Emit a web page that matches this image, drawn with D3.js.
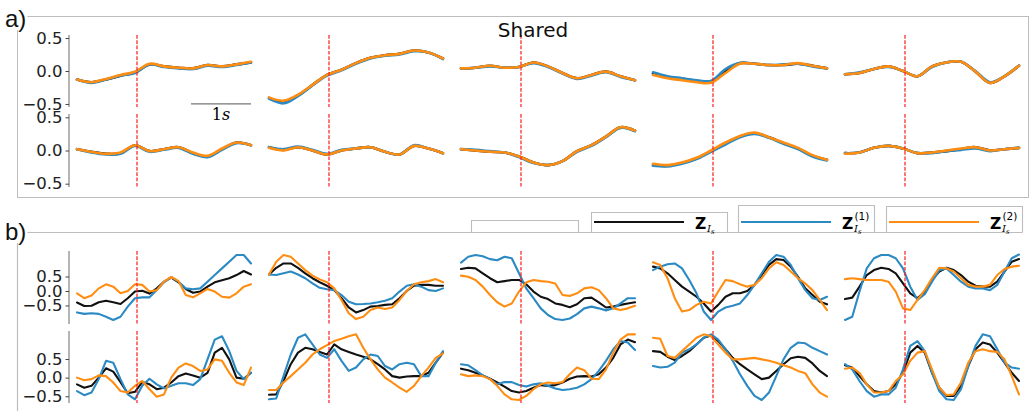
<!DOCTYPE html>
<html>
<head>
<meta charset="utf-8">
<script src="https://cdn.jsdelivr.net/npm/d3@7"></script>
<style>
  body { margin: 0; background: #fff; }
  svg { display: block; font-family: "DejaVu Sans", sans-serif; }
</style>
</head>
<body>
<svg id="chart" width="1031" height="411"></svg>
<script>
// ---- data ----
const yTicks = [-0.5, 0, 0.5];
const seriesNames = ["black", "blue", "orange"];
const superscripts = ["", "(1)", "(2)"];

// a) shared, 13 samples per trace, 5 trials per row
const aRow1Black = [
  [-0.13,-0.17,-0.13,-0.07,-0.02,0.10,0.07,0.05,0.04,0.09,0.07,0.10,0.13],
  [-0.41,-0.47,-0.37,-0.21,-0.06,0.02,0.12,0.20,0.24,0.26,0.31,0.28,0.19],
  [0.04,0.05,0.08,0.05,0.06,0.13,0.07,-0.03,-0.11,-0.06,-0.01,-0.08,-0.14],
  [-0.04,-0.09,-0.12,-0.15,-0.16,0.00,0.12,0.11,0.09,0.09,0.11,0.08,0.04],
  [-0.05,-0.03,0.03,0.07,0.00,-0.08,0.07,0.13,0.14,-0.01,-0.18,-0.08,0.08]
];
const aRow1Blue = [
  [-0.13,-0.18,-0.13,-0.07,-0.03,0.10,0.06,0.04,0.03,0.08,0.06,0.09,0.13],
  [-0.42,-0.49,-0.38,-0.22,-0.07,0.01,0.11,0.19,0.23,0.25,0.30,0.28,0.18],
  [0.04,0.05,0.07,0.05,0.06,0.12,0.06,-0.04,-0.12,-0.07,-0.02,-0.09,-0.14],
  [-0.02,-0.08,-0.11,-0.14,-0.15,0.03,0.12,0.11,0.09,0.10,0.11,0.07,0.04],
  [-0.05,-0.02,0.03,0.06,0.00,-0.08,0.06,0.13,0.14,0.00,-0.17,-0.08,0.08]
];
const aRow1Orange = [
  [-0.13,-0.17,-0.12,-0.06,-0.01,0.11,0.07,0.05,0.04,0.09,0.07,0.10,0.14],
  [-0.40,-0.45,-0.36,-0.21,-0.06,0.02,0.12,0.20,0.24,0.26,0.31,0.28,0.19],
  [0.04,0.05,0.08,0.05,0.06,0.13,0.07,-0.03,-0.11,-0.06,-0.01,-0.08,-0.14],
  [-0.06,-0.11,-0.14,-0.17,-0.18,-0.03,0.11,0.11,0.09,0.09,0.12,0.08,0.04],
  [-0.05,-0.03,0.03,0.07,0.00,-0.08,0.07,0.13,0.14,-0.01,-0.18,-0.08,0.08]
];
const aRow2Black = [
  [0.02,-0.02,-0.05,-0.04,0.08,-0.01,0.02,0.05,-0.04,-0.09,0.02,0.12,0.08],
  [0.05,0.01,0.05,0.00,-0.06,0.00,0.03,0.05,-0.02,-0.06,0.07,0.03,-0.04],
  [0.02,0.00,-0.02,-0.03,-0.09,-0.18,-0.22,-0.16,-0.01,0.08,0.21,0.35,0.30],
  [-0.22,-0.23,-0.19,-0.12,-0.01,0.11,0.21,0.26,0.20,0.11,0.03,-0.08,-0.14],
  [-0.04,-0.03,0.04,0.07,0.03,-0.04,-0.03,-0.01,0.02,0.05,0.00,0.02,0.04]
];
const aRow2Blue = [
  [0.02,-0.03,-0.06,-0.05,0.07,-0.02,0.01,0.04,-0.05,-0.10,0.01,0.11,0.08],
  [0.05,0.02,0.06,0.01,-0.05,0.01,0.03,0.05,-0.02,-0.06,0.08,0.03,-0.04],
  [0.02,0.01,-0.01,-0.03,-0.10,-0.19,-0.22,-0.16,-0.02,0.07,0.20,0.34,0.29],
  [-0.23,-0.24,-0.20,-0.13,-0.02,0.09,0.20,0.25,0.19,0.10,0.02,-0.09,-0.15],
  [-0.04,-0.03,0.04,0.07,0.03,-0.04,-0.04,-0.01,0.01,0.03,-0.01,0.02,0.04]
];
const aRow2Orange = [
  [0.02,-0.02,-0.05,-0.03,0.08,-0.01,0.02,0.05,-0.03,-0.08,0.03,0.12,0.08],
  [0.04,0.00,0.05,0.00,-0.06,0.00,0.03,0.05,-0.02,-0.06,0.07,0.03,-0.04],
  [0.02,0.00,-0.02,-0.03,-0.09,-0.18,-0.22,-0.16,-0.01,0.08,0.21,0.35,0.30],
  [-0.20,-0.22,-0.18,-0.11,0.00,0.12,0.22,0.27,0.20,0.12,0.04,-0.07,-0.14],
  [-0.05,-0.03,0.04,0.07,0.03,-0.04,-0.03,0.00,0.03,0.05,0.00,0.02,0.04]
];

// b) 25 samples per trace
const bRow1Black = [
  [-0.40,-0.52,-0.51,-0.39,-0.34,-0.39,-0.45,-0.25,-0.02,0.01,-0.09,0.09,0.32,0.46,0.30,0.07,-0.06,-0.02,0.15,0.30,0.37,0.44,0.55,0.69,0.57],
  [0.57,0.80,0.95,0.95,0.80,0.61,0.44,0.30,0.18,0.03,-0.25,-0.57,-0.74,-0.66,-0.54,-0.52,-0.48,-0.46,-0.25,0.00,0.18,0.21,0.21,0.18,0.18],
  [0.76,0.80,0.78,0.61,0.44,0.30,0.34,0.38,0.38,0.23,-0.02,-0.20,-0.28,-0.43,-0.48,-0.56,-0.46,-0.25,-0.23,-0.39,-0.57,-0.54,-0.48,-0.43,-0.39],
  [0.84,0.78,0.61,0.38,0.15,-0.02,-0.20,-0.43,-0.71,-0.48,-0.20,-0.08,-0.08,0.00,0.21,0.55,0.90,1.10,1.07,0.84,0.49,0.09,-0.14,-0.37,-0.46],
  [-0.28,-0.23,0.15,0.55,0.72,0.80,0.76,0.61,0.26,-0.08,-0.25,-0.02,0.38,0.67,0.80,0.72,0.55,0.32,0.18,0.15,0.15,0.32,0.67,1.01,1.10]
];
const bRow1Blue = [
  [-0.74,-0.79,-0.77,-0.79,-0.89,-1.00,-0.89,-0.54,-0.25,-0.22,-0.22,0.03,0.30,0.48,0.32,0.09,0.06,0.09,0.32,0.55,0.78,1.01,1.24,1.24,0.95],
  [0.57,0.55,0.61,0.67,0.57,0.44,0.26,0.11,0.06,0.03,-0.14,-0.37,-0.46,-0.45,-0.43,-0.39,-0.34,-0.25,-0.02,0.18,0.23,0.15,0.03,0.00,0.09],
  [0.98,1.18,1.24,1.20,1.10,1.06,1.18,1.13,0.61,0.09,-0.25,-0.60,-0.83,-0.97,-1.00,-0.95,-0.80,-0.60,-0.54,-0.60,-0.67,-0.60,-0.43,-0.25,-0.25],
  [0.72,0.84,0.92,0.95,0.78,0.38,-0.08,-0.71,-1.00,-0.71,-0.57,-0.51,-0.43,-0.14,0.21,0.61,1.01,1.24,1.18,0.90,0.44,0.03,-0.25,-0.31,-0.20],
  [-1.00,-0.89,-0.02,0.78,1.13,1.24,1.24,1.13,0.78,0.15,-0.31,-0.11,0.32,0.72,0.78,0.55,0.32,0.15,0.09,0.09,0.03,0.21,0.67,1.13,1.26]
];
const bRow1Orange = [
  [-0.08,-0.25,-0.16,0.09,0.23,0.15,-0.08,0.00,0.23,0.21,-0.02,0.03,0.32,0.49,0.34,-0.14,-0.22,-0.08,0.07,-0.02,-0.20,-0.23,-0.08,0.15,0.23],
  [0.57,1.01,1.24,1.18,0.95,0.72,0.53,0.40,0.30,0.09,-0.31,-0.77,-0.97,-0.89,-0.66,-0.57,-0.62,-0.57,-0.31,0.00,0.23,0.30,0.34,0.41,0.30],
  [0.53,0.49,0.38,0.15,-0.14,-0.39,-0.54,-0.43,-0.02,0.30,0.38,0.34,0.32,0.26,-0.14,-0.17,-0.08,0.09,0.13,0.03,-0.25,-0.60,-0.66,-0.60,-0.51],
  [0.99,0.90,0.44,-0.25,-0.71,-0.66,-0.48,-0.37,-0.43,-0.02,0.38,0.34,0.23,0.15,0.21,0.44,0.78,0.99,0.90,0.67,0.44,0.26,0.03,-0.31,-0.66],
  [0.41,0.44,0.41,0.38,0.38,0.38,0.32,-0.02,-0.60,-0.66,-0.31,0.03,0.44,0.80,0.78,0.67,0.44,0.21,0.15,0.15,0.21,0.55,0.76,0.84,0.87]
];
const bRow2Black = [
  [-0.18,-0.27,-0.22,0.00,0.25,0.16,-0.12,-0.42,-0.38,-0.12,-0.18,-0.31,-0.27,-0.13,0.04,0.11,0.06,0.00,0.13,0.67,0.80,0.49,0.00,-0.03,0.13],
  [-0.46,-0.45,-0.09,0.36,0.67,0.80,0.76,0.69,0.62,0.89,0.76,0.69,0.62,0.56,0.49,0.36,0.22,0.04,0.00,0.03,0.04,0.04,0.13,0.40,0.67],
  [0.24,0.20,0.13,0.06,-0.03,-0.13,-0.24,-0.36,-0.40,-0.36,-0.27,-0.20,-0.22,-0.20,-0.13,-0.03,0.03,0.04,0.03,0.09,0.27,0.53,0.89,1.02,0.95],
  [0.71,0.69,0.56,0.47,0.58,0.71,0.89,1.07,1.13,0.98,0.76,0.53,0.36,0.22,0.09,-0.04,0.00,0.18,0.36,0.52,0.56,0.53,0.38,0.18,0.04],
  [0.33,0.27,0.04,-0.18,-0.36,-0.40,-0.36,-0.18,0.13,0.67,0.85,0.67,0.13,-0.27,-0.49,-0.49,-0.22,0.31,0.76,0.94,0.89,0.67,0.40,0.13,-0.09]
];
const bRow2Blue = [
  [-0.36,-0.47,-0.40,-0.04,0.45,0.40,-0.04,-0.45,-0.58,-0.22,-0.03,-0.18,-0.29,-0.22,-0.15,-0.15,-0.20,-0.04,0.49,1.02,1.11,0.71,0.18,-0.04,0.13],
  [-0.58,-0.56,0.04,0.62,1.07,1.16,0.89,0.62,0.53,0.76,0.45,0.18,0.27,0.49,0.62,0.58,0.31,0.22,0.36,0.40,0.36,0.04,0.04,0.40,0.71],
  [0.36,0.33,0.20,0.06,-0.04,-0.18,-0.12,-0.12,-0.20,-0.24,-0.18,-0.15,-0.22,-0.29,-0.33,-0.31,-0.27,-0.18,-0.04,0.18,0.45,0.76,0.98,0.94,0.74],
  [0.31,0.27,0.29,0.40,0.67,0.76,0.89,1.07,1.16,1.02,0.76,0.45,0.09,-0.22,-0.49,-0.60,-0.40,0.04,0.49,0.80,0.94,0.92,0.80,0.71,0.62],
  [0.36,0.22,-0.09,-0.36,-0.51,-0.45,-0.45,-0.27,0.22,0.85,0.98,0.71,0.13,-0.36,-0.58,-0.60,-0.31,0.31,0.85,1.16,1.11,0.76,0.40,0.27,0.24]
];
const bRow2Orange = [
  [0.00,-0.07,-0.04,0.06,0.04,-0.13,-0.36,-0.40,-0.22,-0.09,-0.31,-0.51,-0.45,0.00,0.27,0.38,0.31,0.18,0.22,0.49,0.45,0.13,-0.13,-0.20,0.27],
  [-0.33,-0.33,-0.13,0.04,0.22,0.40,0.62,0.76,0.87,0.98,1.04,1.11,1.16,0.80,0.49,0.22,0.00,-0.13,-0.27,-0.38,-0.22,0.04,0.27,0.53,0.65],
  [0.09,0.04,0.06,0.04,-0.04,-0.22,-0.45,-0.58,-0.60,-0.49,-0.31,-0.18,-0.13,-0.15,-0.12,0.09,0.27,0.20,-0.03,-0.04,0.22,0.67,1.02,1.16,1.16],
  [1.07,1.04,0.58,0.53,0.71,0.89,1.07,1.16,1.11,0.89,0.67,0.49,0.49,0.51,0.53,0.49,0.45,0.40,0.33,0.27,0.18,0.12,-0.18,-0.40,-0.51],
  [0.24,0.27,0.13,-0.18,-0.40,-0.40,-0.36,-0.09,0.09,0.45,0.67,0.71,0.22,-0.27,-0.47,-0.45,-0.13,0.40,0.71,0.76,0.71,0.69,0.49,0.04,-0.45]
];

// ---- layout ----
const colors = { black: "#111111", blue: "#2b8ac3", orange: "#ff8d12" };
const frameColor = "#bdbdbd";
const panelLeft = [77, 269, 461, 653, 845];
const panelWidth = 174;
const duration = 2.9;  // seconds per trial window
const onset = 1.0;     // red marker

const rows = [
  { top: 35,  bottom: 107, domain: [-0.546, 0.546], data: [aRow1Black, aRow1Blue, aRow1Orange], width: 2.6, smooth: true },
  { top: 114, bottom: 187, domain: [-0.55, 0.55],   data: [aRow2Black, aRow2Blue, aRow2Orange], width: 2.6, smooth: true },
  { top: 251, bottom: 324, domain: [-1.14, 1.38],   data: [bRow1Black, bRow1Blue, bRow1Orange], width: 2.1, smooth: false },
  { top: 331, bottom: 403, domain: [-0.68, 1.25],   data: [bRow2Black, bRow2Blue, bRow2Orange], width: 2.1, smooth: false }
];

const svg = d3.select("#chart");
const frames = svg.append("g").attr("class", "frames");

// a) closed box
frames.append("rect").attr("x", 17.5).attr("y", 16.5).attr("width", 1011).attr("height", 181)
  .attr("fill", "none").attr("stroke", frameColor);
// b) box: top edge and left side (it runs off the bottom of the page)
frames.append("line").attr("x1", 17.5).attr("x2", 1022.5).attr("y1", 232.5).attr("y2", 232.5)
  .attr("stroke", frameColor).attr("stroke-width", 1.2);
frames.append("line").attr("x1", 17.5).attr("x2", 17.5).attr("y1", 232).attr("y2", 411)
  .attr("stroke", frameColor).attr("stroke-width", 1.2);

// legend frames sitting on the b) frame
const legendBoxes = [
  { x0: 471, x1: 578, top: 220, series: null },
  { x0: 591, x1: 727, top: 212, series: 0 },
  { x0: 738, x1: 874, top: 205, series: 1 },
  { x0: 886, x1: 1022, top: 206, series: 2 }
];
legendBoxes.forEach(b => {
  frames.append("path")
    .attr("d", `M${b.x0 + 0.5},232.5V${b.top + 0.5}H${b.x1 + 0.5}V232.5`)
    .attr("fill", "none").attr("stroke", frameColor).attr("stroke-width", 1.1);
  if (b.series === null) return;
  const name = seriesNames[b.series];
  svg.append("line").attr("x1", b.x0 + 3).attr("x2", b.x0 + 93)
    .attr("y1", 222).attr("y2", 222)
    .attr("stroke", colors[name]).attr("stroke-width", 2.2);
  const zx = b.x0 + 104;
  svg.append("text").attr("x", zx).attr("y", 228.5)
    .attr("font-size", 15.5).attr("font-weight", "bold").text("Z");
  svg.append("text").attr("x", zx + 12).attr("y", 231.5)
    .attr("font-family", "DejaVu Serif").attr("font-style", "italic").attr("font-size", 10)
    .text("I")
    .append("tspan").attr("font-size", 7).attr("dy", 2).text("s");
  if (superscripts[b.series]) {
    svg.append("text").attr("x", zx + 12.5).attr("y", 219.5)
      .attr("font-size", 10.5).text(superscripts[b.series]);
  }
});

// rows of trials
rows.forEach((row, ri) => {
  const y = d3.scaleLinear().domain(row.domain).range([row.bottom, row.top]);
  panelLeft.forEach((left, pi) => {
    const x = d3.scaleLinear().domain([0, duration]).range([left, left + panelWidth]);
    const g = svg.append("g");

    row.data.forEach((seriesSet, si) => {
      const vals = seriesSet[pi];
      const step = duration / (vals.length - 1);
      const line = d3.line()
        .x((d, i) => x(i * step))
        .y(d => y(d))
        .curve(row.smooth ? d3.curveCatmullRom.alpha(0.5) : d3.curveLinear);
      g.append("path").datum(vals)
        .attr("d", line)
        .attr("fill", "none")
        .attr("stroke", colors[seriesNames[si]])
        .attr("stroke-width", row.width)
        .attr("stroke-linejoin", "round")
        .attr("stroke-linecap", "round");
    });

    g.append("line")
      .attr("x1", x(onset)).attr("x2", x(onset))
      .attr("y1", row.top).attr("y2", row.bottom)
      .attr("stroke", "#ff1a1a").attr("stroke-width", 1.2)
      .attr("stroke-dasharray", "3.7,1.6");

    if (pi === 0) {
      const axis = d3.axisLeft(y).tickValues(yTicks)
        .tickFormat(d3.format(".1f")).tickSize(3.5).tickSizeOuter(0).tickPadding(3);
      const ag = svg.append("g").attr("transform", `translate(${left - 8},0)`).call(axis);
      ag.select(".domain").attr("stroke", "#6b6b6b").attr("d", `M0,${row.top}V${row.bottom}`);
      ag.selectAll(".tick line").attr("stroke", "#444");
      ag.selectAll(".tick text").attr("font-size", 16.5).attr("fill", "#222")
        .attr("font-family", "DejaVu Sans");
    }

    // 1 s scale bar under the first trial
    if (ri === 0 && pi === 0) {
      svg.append("line").attr("x1", x(duration - 1)).attr("x2", x(duration))
        .attr("y1", y(-0.5)).attr("y2", y(-0.5))
        .attr("stroke", "#777").attr("stroke-width", 1.3);
      svg.append("text").attr("x", (x(duration - 1) + x(duration)) / 2).attr("y", 120)
        .attr("text-anchor", "middle").attr("font-family", "DejaVu Serif").attr("font-size", 16)
        .text("1")
        .append("tspan").attr("font-style", "italic").text("s");
    }
  });
});

// titles and panel letters
svg.append("text").attr("x", 533).attr("y", 37).attr("text-anchor", "middle")
  .attr("font-size", 20).attr("fill", "#111").text("Shared");

[["a)", 27], ["b)", 240]].forEach(([lbl, yy]) => {
  const t = svg.append("text").attr("x", 5).attr("y", yy)
    .attr("font-family", "Liberation Sans, Arial, sans-serif").attr("font-size", 24).attr("fill", "#111").text(lbl);
  const bb = t.node().getBBox();
  frames.append("rect").attr("x", bb.x).attr("y", bb.y + 4).attr("width", bb.width + 1).attr("height", bb.height - 6)
    .attr("fill", "#fff");
});
</script>
</body>
</html>
